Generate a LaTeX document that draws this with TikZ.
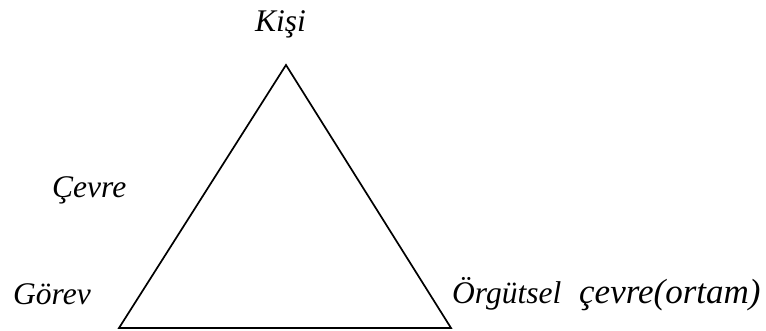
\documentclass[tikz,border=0pt]{standalone}
\usepackage{fontspec}
\setmainfont{Liberation Serif}
\begin{document}
\begin{tikzpicture}[x=1pt,y=1pt,
  lbl/.style={inner sep=0pt, anchor=base west, font=\fontsize{31.5}{33}\selectfont\itshape},
  edge/.style={line width=1.7pt, line join=miter}]
\useasboundingbox (0,0) rectangle (766,331);
\coordinate (top) at (286,266);
\coordinate (bl) at (119,3);
\coordinate (br) at (451,3);
\draw[edge] (top) -- (bl) -- (br) -- cycle;
\node[lbl] (kisi) at (255,299) {Kişi};
\node[lbl] (cevre) at (52,133) {Çevre};
\node[lbl] (gorev) at (13,26) {Görev};
\node[lbl] (orgutsel) at (452,27) {Örgütsel};
\node[lbl, font=\fontsize{35}{37}\selectfont\itshape] (ortam) at (579,27) {çevre(ortam)};
\end{tikzpicture}
\end{document}
